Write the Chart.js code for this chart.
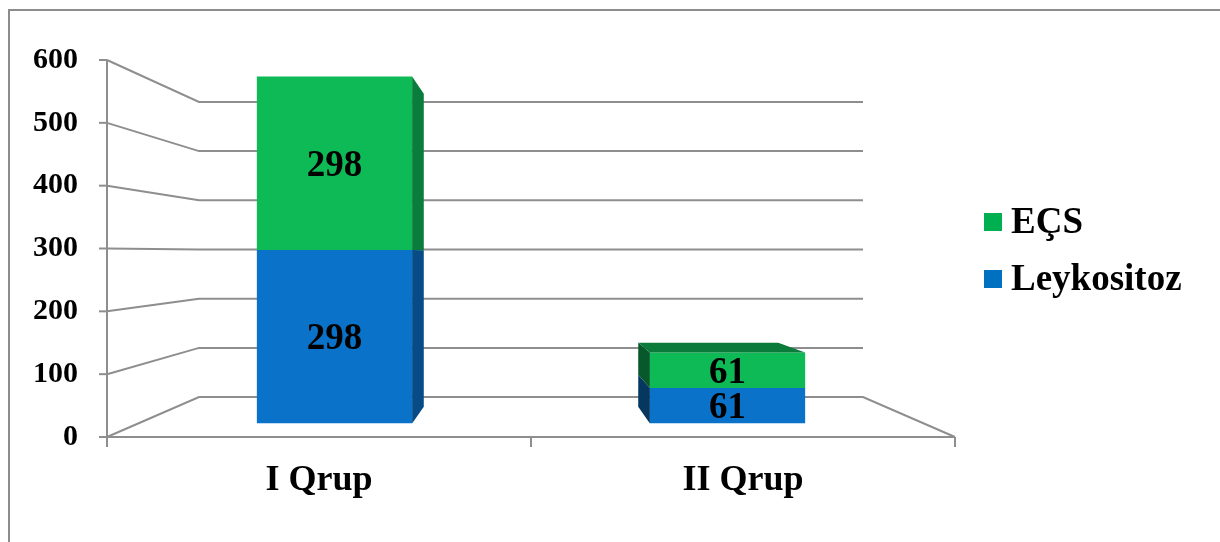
<!DOCTYPE html>
<html>
<head>
<meta charset="utf-8">
<script src="https://cdn.jsdelivr.net/npm/chart.js@4"></script>
<style>
  html, body { margin: 0; padding: 0; background: #ffffff; }
  #wrap { width: 1220px; height: 542px; }
</style>
</head>
<body>
<div id="wrap"><canvas id="chart" width="1220" height="542"></canvas></div>
<script>
// Chart data
const categories = ['I Qrup', 'II Qrup'];
const leykositoz = [298, 61];
const ecs = [298, 61];
const yTickValues = [0, 100, 200, 300, 400, 500, 600];

// Colours of the two series (front face, side face, darker side, top face)
const palette = {
  'Leykositoz': { front: '#0A73C9', side: '#074C86', sideDark: '#06375E', top: '#06508C', legend: '#0070C0' },
  'EÇS':        { front: '#0DBA56', side: '#0A7C3B', sideDark: '#07582B', top: '#0A7B3A', legend: '#00B050' }
};

const FONT = '"Liberation Serif", "Times New Roman", serif';

// Perspective of the pseudo-3D plot box: vanishing point and depth scales
const VIEW = {
  vpY: 0.512,      // vanishing point height as a fraction of the plot height
  wall: 0.783,     // back wall scale
  barFront: 0.927, // bar front face scale
  barBack: 0.836   // bar back face scale
};

function viewOf(chart) {
  const a = chart.chartArea;
  const vx = (a.left + a.right) / 2;
  const vy = a.top + VIEW.vpY * (a.bottom - a.top);
  const proj = (px, py, s) => [vx + s * (px - vx), vy + s * (py - vy)];
  return { a, vx, vy, proj };
}

function poly(ctx, pts, fill) {
  ctx.beginPath();
  ctx.moveTo(pts[0][0], pts[0][1]);
  for (let i = 1; i < pts.length; i++) ctx.lineTo(pts[i][0], pts[i][1]);
  ctx.closePath();
  ctx.fillStyle = fill;
  ctx.fill();
}

const box3d = {
  id: 'box3d',
  beforeDraw(chart) {
    const ctx = chart.ctx;
    ctx.save();
    ctx.fillStyle = '#ffffff';
    ctx.fillRect(0, 0, chart.width, chart.height);
    // outer frame
    ctx.strokeStyle = '#8c8c8c';
    ctx.lineWidth = 2;
    ctx.beginPath();
    ctx.moveTo(9, chart.height);
    ctx.lineTo(9, 10);
    ctx.lineTo(chart.width, 10);
    ctx.stroke();
    ctx.restore();
  },
  beforeDatasetsDraw(chart) {
    const ctx = chart.ctx;
    const { a, vx, vy, proj } = viewOf(chart);
    const y = chart.scales.y;
    ctx.save();
    ctx.strokeStyle = '#8e8e8e';
    ctx.lineWidth = 2;
    ctx.lineJoin = 'miter';
    // side wall + back wall gridlines
    yTickValues.forEach(v => {
      const py = y.getPixelForValue(v);
      const p0 = proj(a.left, py, VIEW.wall);
      const p1 = proj(a.right, py, VIEW.wall);
      ctx.beginPath();
      ctx.moveTo(a.left, py);
      ctx.lineTo(p0[0], p0[1]);
      ctx.lineTo(p1[0], p1[1]);
      if (v === 0) ctx.lineTo(a.right, a.bottom);
      ctx.stroke();
      // tick mark on the value axis
      ctx.beginPath();
      ctx.moveTo(a.left - 8, py);
      ctx.lineTo(a.left, py);
      ctx.stroke();
    });
    // value axis line
    ctx.beginPath();
    ctx.moveTo(a.left, a.top);
    ctx.lineTo(a.left, a.bottom + 10);
    ctx.stroke();
    // floor front edge
    ctx.beginPath();
    ctx.moveTo(a.left, a.bottom);
    ctx.lineTo(a.right, a.bottom);
    ctx.stroke();
    // category tick marks
    [a.left, (a.left + a.right) / 2, a.right].forEach(px => {
      ctx.beginPath();
      ctx.moveTo(px, a.bottom);
      ctx.lineTo(px, a.bottom + 10);
      ctx.stroke();
    });
    ctx.restore();

    // bars are drawn on the front-face plane of the box
    ctx.save();
    ctx.translate(vx, vy);
    ctx.scale(VIEW.barFront, VIEW.barFront);
    ctx.translate(-vx, -vy);
  },
  afterDatasetsDraw(chart) {
    const ctx = chart.ctx;
    ctx.restore();
    const { vx, vy, proj } = viewOf(chart);
    const sF = VIEW.barFront, sB = VIEW.barBack;
    const n = chart.data.datasets.length;
    ctx.save();
    chart.data.datasets.forEach((ds, di) => {
      const meta = chart.getDatasetMeta(di);
      const col = palette[ds.label];
      meta.data.forEach((el, j) => {
        const { x, y, base, width } = el.getProps(['x', 'y', 'base', 'width'], true);
        const l = x - width / 2, r = x + width / 2;
        // side face
        const ex = proj(x, y, sF)[0] < vx ? r : l;
        poly(ctx, [proj(ex, y, sF), proj(ex, y, sB), proj(ex, base, sB), proj(ex, base, sF)],
             ex === r ? col.side : col.sideDark);
        // top face when the top sits below eye level
        if (di === n - 1 && proj(x, y, sF)[1] > vy) {
          poly(ctx, [proj(l, y, sF), proj(r, y, sF), proj(r, y, sB), proj(l, y, sB)], col.top);
        }
      });
    });
    // value labels centred on the front faces
    ctx.fillStyle = '#000000';
    ctx.font = 'bold 37px ' + FONT;
    ctx.textAlign = 'center';
    ctx.textBaseline = 'middle';
    chart.data.datasets.forEach((ds, di) => {
      const meta = chart.getDatasetMeta(di);
      meta.data.forEach((el, j) => {
        const { x, y, base } = el.getProps(['x', 'y', 'base'], true);
        const c = proj(x, (y + base) / 2, sF);
        ctx.fillText(String(ds.data[j]), c[0], c[1] + 3);
      });
    });
    ctx.restore();
  },
  afterDraw(chart) {
    // legend, top series first
    const ctx = chart.ctx;
    ctx.save();
    ctx.font = 'bold 37px ' + FONT;
    ctx.textAlign = 'left';
    ctx.textBaseline = 'middle';
    const items = chart.data.datasets.slice().reverse();
    items.forEach((ds, i) => {
      const cy = 222 + i * 57;
      ctx.fillStyle = palette[ds.label].legend;
      ctx.fillRect(984, cy - 9, 18, 18);
      ctx.fillStyle = '#000000';
      ctx.fillText(ds.label, 1011, cy + 1);
    });
    ctx.restore();
  }
};

new Chart(document.getElementById('chart'), {
  type: 'bar',
  data: {
    labels: categories,
    datasets: [
      { label: 'Leykositoz', data: leykositoz, backgroundColor: palette['Leykositoz'].front, borderWidth: 0 },
      { label: 'EÇS', data: ecs, backgroundColor: palette['EÇS'].front, borderWidth: 0 }
    ]
  },
  options: {
    responsive: false,
    animation: false,
    devicePixelRatio: 1,
    categoryPercentage: 1,
    barPercentage: 0.395,
    layout: { padding: { top: 60, right: 265, bottom: 0, left: 0 } },
    plugins: { legend: { display: false }, tooltip: { enabled: false } },
    scales: {
      x: {
        stacked: true,
        grid: { display: false, drawTicks: false },
        border: { display: false },
        ticks: { color: '#000000', padding: 22, font: { family: FONT, size: 36, weight: 'bold' } },
        afterFit(s) { s.height = 105; }
      },
      y: {
        stacked: true,
        min: 0,
        max: 600,
        grid: { display: false, drawTicks: false },
        border: { display: false },
        ticks: { stepSize: 100, color: '#000000', padding: 29, font: { family: FONT, size: 30, weight: 'bold' } },
        afterFit(s) { s.width = 107; }
      }
    }
  },
  plugins: [box3d]
});
</script>
</body>
</html>
